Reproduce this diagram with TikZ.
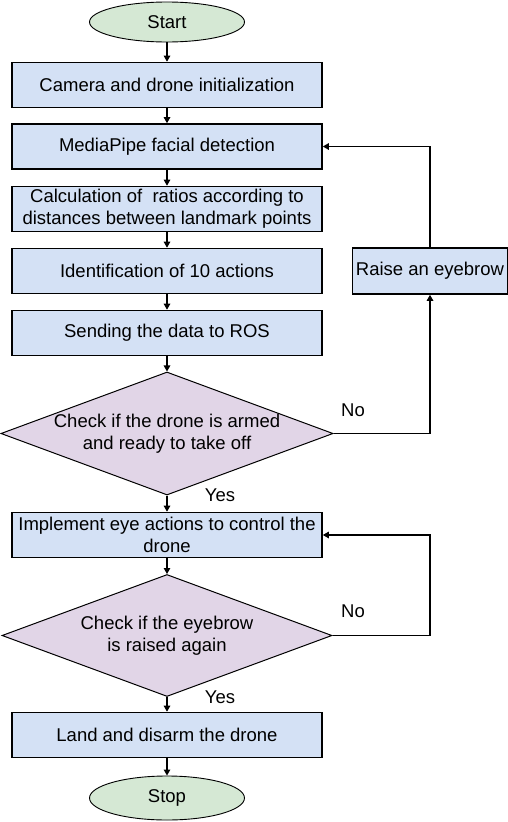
\documentclass[tikz,border=0pt]{standalone}
\usepackage{fontspec}
\setmainfont{Liberation Sans}
\usetikzlibrary{shapes.geometric,arrows.meta}
\definecolor{boxblue}{HTML}{D4E1F5}
\definecolor{termgreen}{HTML}{D5E8D4}
\definecolor{decpurple}{HTML}{E1D5E7}
\begin{document}
\begin{tikzpicture}[x=1pt,y=-1pt,
  every node/.style={font=\fontsize{18.5}{22}\selectfont},
  procbox/.style={draw=black,line width=1.6pt,fill=boxblue,minimum width=310pt,minimum height=45pt,inner sep=0pt,align=center},
  termnode/.style={ellipse,draw=black,line width=0.9pt,fill=termgreen,minimum width=155pt,minimum height=40pt,inner sep=0pt},
  decnode/.style={diamond,draw=black,line width=1pt,fill=decpurple,aspect=2.7,minimum width=330pt,minimum height=122pt,inner sep=0pt,align=center},
  flow/.style={draw=black,line width=1.2pt,-{Triangle[width=6.5pt,length=6pt]}},
  lbl/.style={inner sep=0pt}
]
\useasboundingbox (0,0) rectangle (508,822);
\node[termnode] (start) at (167,22) {Start};
\node[procbox] (b1) at (167,85) {Camera and drone initialization};
\node[procbox] (b2) at (167,146.5) {MediaPipe facial detection};
\node[procbox] (b3) at (167,209) {Calculation of \ ratios according to\\distances between landmark points};
\node[procbox] (b4) at (167,271) {Identification of 10 actions};
\node[procbox] (b5) at (167,333) {Sending the data to ROS};
\node[decnode] (d1) at (167,433.5) {Check if the drone is armed\\and ready to take off};
\node[procbox,minimum width=155pt,minimum height=46pt] (raise) at (430,271) {Raise an eyebrow};
\node[procbox] (b6) at (167,535) {Implement eye actions to control the\\drone};
\node[decnode] (d2) at (167,635.5) {Check if the eyebrow\\is raised again};
\node[procbox] (b7) at (167,735) {Land and disarm the drone};
\node[termnode,minimum height=44pt] (stop) at (167,798) {Stop};
\coordinate (c2) at (430,635.5);
\node[lbl] (no1) at (353,410) {No};
\node[lbl] (no2) at (353,611) {No};
\node[lbl] (yes1) at (220,495) {Yes};
\node[lbl] (yes2) at (220,697) {Yes};
\draw[flow] (start) -- (b1);
\draw[flow] (b1) -- (b2);
\draw[flow] (b2) -- (b3);
\draw[flow] (b3) -- (b4);
\draw[flow] (b4) -- (b5);
\draw[flow] (b5) -- (d1);
\draw[flow] (d1) -- (b6);
\draw[flow] (b6) -- (d2);
\draw[flow] (d2) -- (b7);
\draw[flow] (b7) -- (stop);
\draw[flow] (d1.east) -| (raise.south);
\draw[flow] (raise.north) |- (b2.east);
\draw[flow] (d2.east) -- (c2) |- (b6.east);
\end{tikzpicture}
\end{document}
